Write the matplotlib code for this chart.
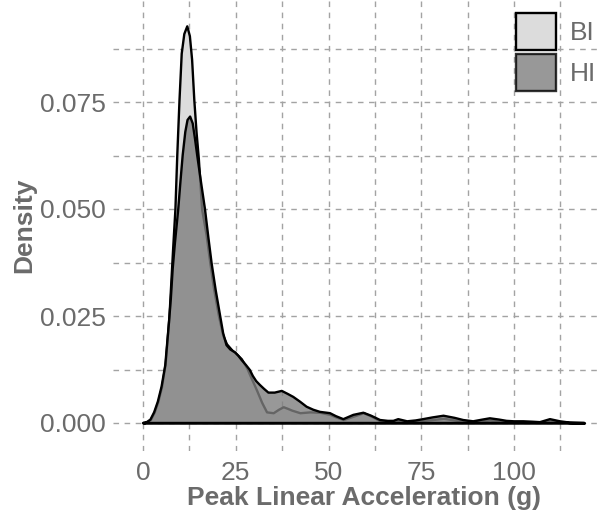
import numpy as np
import matplotlib
matplotlib.use('Agg')
import matplotlib.pyplot as plt
from matplotlib.patches import Patch

# density curves
bi_x = [0, 1, 2, 3, 4, 5, 6, 7, 7.5, 8, 8.6, 9.1, 9.7, 10.3, 11, 11.8, 12.5, 13.1,
        13.7, 14.3, 14.9, 15.8, 17, 18, 19, 20.3, 21.5, 22.5, 24, 25, 26.5, 28, 29,
        30.6, 32, 33.3, 35.1, 36.5, 37.8, 39, 40.1, 42.3, 45, 47.7, 50.4, 52, 54,
        56.7, 59.4, 61.5, 63.9, 66, 68.8, 71.2, 73.5, 75.5, 78, 81, 84, 86.3, 89,
        91.5, 93.5, 96, 98, 102.5, 105, 107, 109.7, 112.4, 115, 119]
bi_y = [0.0, 0.0002, 0.0008, 0.0025, 0.0050, 0.0085, 0.0140, 0.0250, 0.0330, 0.0410,
        0.0500, 0.0626, 0.0755, 0.0864, 0.0910, 0.0928, 0.0905, 0.0850, 0.0755, 0.0680,
        0.0620, 0.0500, 0.0440, 0.0375, 0.0315, 0.0252, 0.0205, 0.0185, 0.0170, 0.0163,
        0.0150, 0.0128, 0.0108, 0.0077, 0.0048, 0.0026, 0.0024, 0.0032, 0.0038, 0.0034,
        0.0030, 0.0024, 0.0026, 0.0025, 0.0020, 0.0014, 0.0008, 0.0016, 0.0024, 0.0016,
        0.0005, 0.0003, 0.0006, 0.0003, 0.0004, 0.0006, 0.0008, 0.0011, 0.0007, 0.0004,
        0.0003, 0.0005, 0.0007, 0.0004, 0.0003, 0.0003, 0.0002, 0.0002, 0.0007, 0.0003,
        0.0001, 0.0]

hi_x = [0, 1, 2, 3, 4, 5, 6, 7, 7.5, 8, 8.6, 9.5, 10.1, 10.7, 11.4, 12, 12.7, 13.4,
        14, 14.6, 15.6, 16.7, 17.6, 18.5, 19.6, 20.8, 21.6, 22.5, 23.5, 24.8, 25.7,
        26.6, 27.7, 28.8, 29.6, 30.5, 31.5, 32.6, 33.8, 35.5, 37.4, 39, 40.5, 42.3,
        44.1, 45.9, 47.7, 50.4, 52, 54, 56.7, 59.4, 61.5, 63.9, 66, 67.5, 68.8, 71.2,
        73.5, 75.5, 78, 81, 84, 86.3, 89, 91.5, 93.5, 96, 98, 100, 102.5, 105, 107,
        109.7, 112.4, 115, 119]
hi_y = [0.0, 0.0002, 0.0008, 0.0025, 0.0050, 0.0085, 0.0135, 0.0235, 0.0290, 0.0360,
        0.0420, 0.0500, 0.0565, 0.0626, 0.0680, 0.0708, 0.0716, 0.0700, 0.0665, 0.0626,
        0.0565, 0.0500, 0.0435, 0.0373, 0.0310, 0.0250, 0.0210, 0.0182, 0.0172, 0.0165,
        0.0157, 0.0147, 0.0136, 0.0124, 0.0110, 0.0098, 0.0089, 0.0080, 0.0071, 0.0071,
        0.0075, 0.0068, 0.0061, 0.0050, 0.0038, 0.0031, 0.0026, 0.0023, 0.0016, 0.0009,
        0.0019, 0.0024, 0.0017, 0.0007, 0.0005, 0.0005, 0.0009, 0.0004, 0.0006, 0.0009,
        0.0013, 0.0017, 0.0012, 0.0007, 0.0004, 0.0008, 0.0011, 0.0008, 0.0005, 0.0004,
        0.0004, 0.0003, 0.0002, 0.0009, 0.0004, 0.0001, 0.0]

groups = ['BI', 'HI']
x_ticks = [0, 25, 50, 75, 100]
y_ticks = [0.000, 0.025, 0.050, 0.075]
y_tick_labels = ['0.000', '0.025', '0.050', '0.075']

plt.rcParams['font.family'] = ['Liberation Sans', 'DejaVu Sans']
text_color = '#6b6b6b'
grid_color = '#a3a3a3'
bi_color = '#dcdcdc'
hi_color = '#7f7f7f'

fig = plt.figure(figsize=(6.02, 5.17), dpi=100)
ax = fig.add_axes([113 / 602, 1 - 451 / 517, (615 - 113) / 602, 451 / 517])

ax.fill_between(bi_x, bi_y, facecolor=bi_color, edgecolor='black', linewidth=1.7, zorder=2)
ax.fill_between(hi_x, hi_y, facecolor=hi_color, alpha=0.8, edgecolor='none', zorder=3)
ax.fill_between(hi_x, hi_y, facecolor='none', edgecolor='black', linewidth=1.7, zorder=4)

ax.set_xlim((113 - 143) / 3.71, (615 - 143) / 3.71)
ax.set_ylim(-(451 - 423) / 4280, 423 / 4280)

ax.set_xticks(x_ticks)
ax.set_xticks([12.5, 37.5, 62.5, 87.5, 112.5], minor=True)
ax.set_yticks(y_ticks)
ax.set_yticklabels(y_tick_labels)
ax.set_yticks([0.0125, 0.0375, 0.0625, 0.0875], minor=True)

ax.grid(True, which='both', color=grid_color, linestyle=(0, (4, 4)), linewidth=1.0)
ax.set_axisbelow(True)
for s in ax.spines.values():
    s.set_visible(False)
ax.tick_params(which='both', length=0, labelsize=19, labelcolor=text_color)
ax.tick_params(axis='x', pad=7)
ax.tick_params(axis='y', pad=5)

ax.set_xlabel('Peak Linear Acceleration (g)', fontsize=19, fontweight='bold', color=text_color, labelpad=1)
ax.set_ylabel('Density', fontsize=19, fontweight='bold', color=text_color, labelpad=3)

handles = [Patch(facecolor=bi_color, edgecolor='black', linewidth=1.7),
           Patch(facecolor=hi_color, alpha=0.8, edgecolor='black', linewidth=1.7)]
leg = ax.legend(handles, groups, loc='upper left', bbox_to_anchor=(516 / 602, 1 - 13 / 517),
                bbox_transform=fig.transFigure, frameon=False, fontsize=19,
                handlelength=1.5, handleheight=1.8, handletextpad=0.55,
                labelspacing=0.12, borderpad=0, borderaxespad=0)
for t in leg.get_texts():
    t.set_color(text_color)

fig.savefig('out.png', dpi=100)
